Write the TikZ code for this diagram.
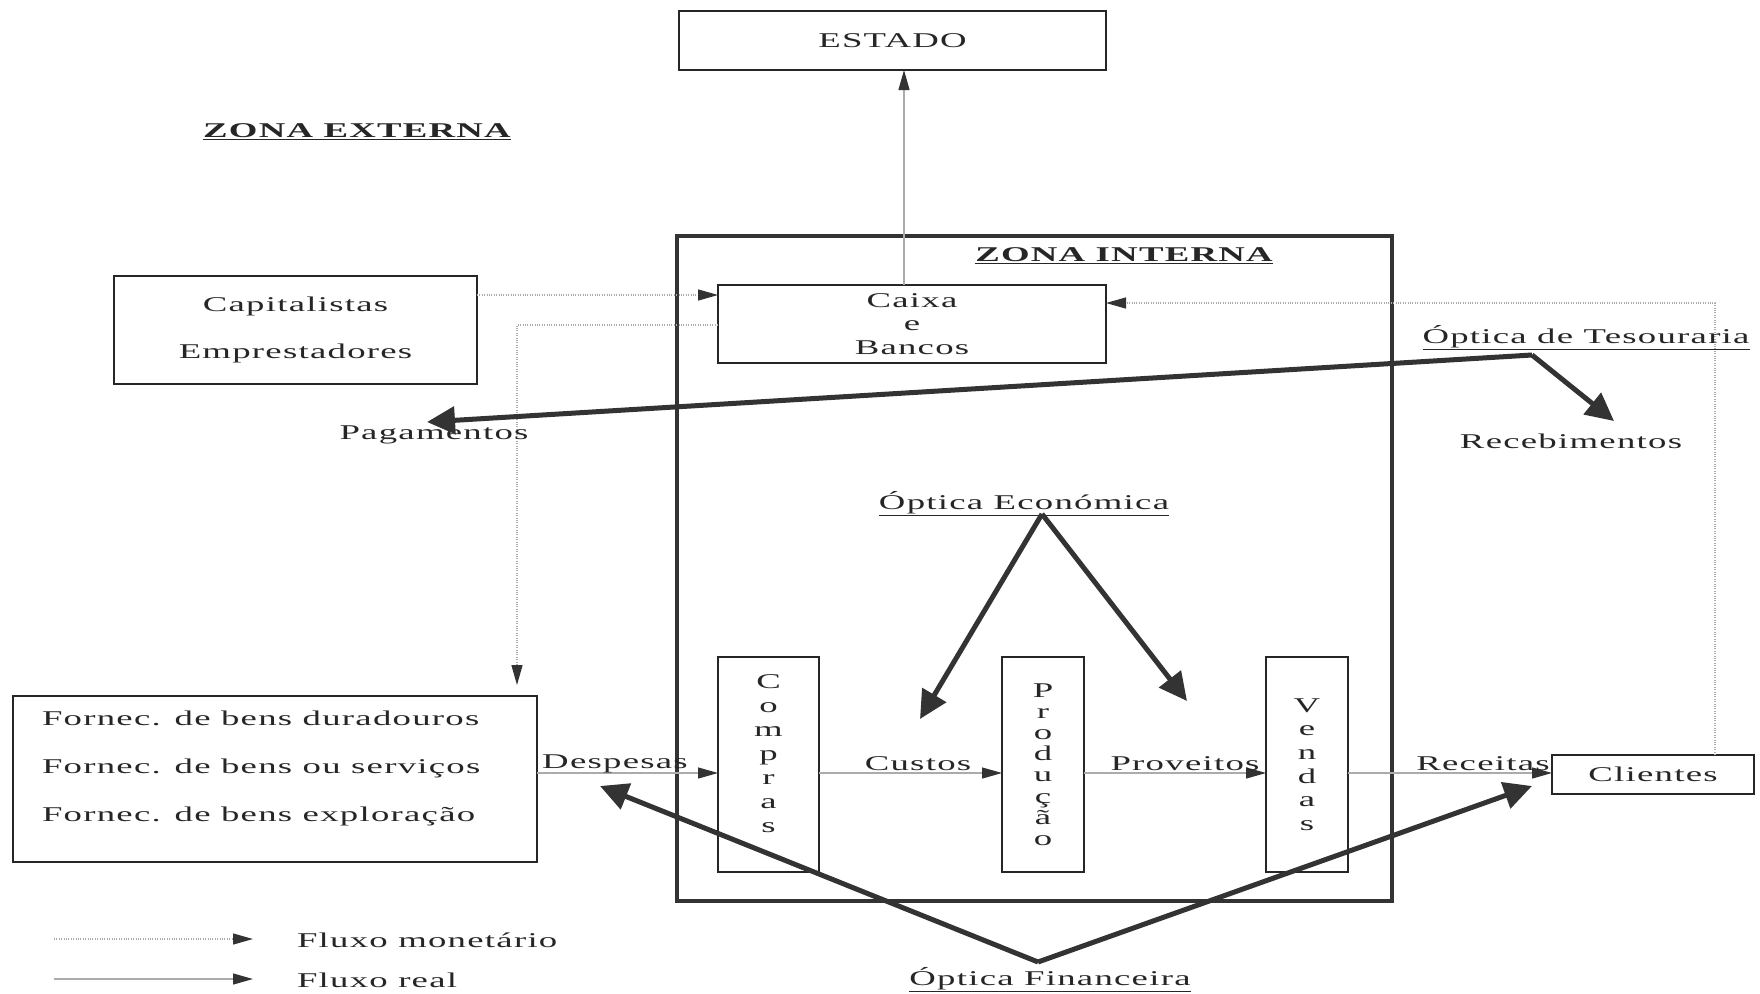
\documentclass[tikz,border=0pt]{standalone}
\usepackage{fontspec}
\setmainfont{Liberation Serif}[FakeStretch=1.75,LetterSpace=6]
\usetikzlibrary{arrows.meta}
\definecolor{ink}{HTML}{262626}
\definecolor{flow}{HTML}{ABABAB}
\definecolor{heavy}{HTML}{333333}
\begin{document}
\begin{tikzpicture}[x=1pt,y=-1pt,
  every node/.style={font=\fontsize{21}{24}\selectfont, text=ink, inner sep=0pt, outer sep=0pt},
  box/.style={draw=ink, line width=1.4pt, fill=white},
  real/.style={draw=flow, line width=1.3pt, -{Triangle[length=20pt,width=11pt,color=heavy]}},
  monet/.style={draw=flow, line width=1.3pt, dash pattern=on 1pt off 1.4pt, -{Triangle[length=20pt,width=11pt,color=heavy]}},
  bigarrow/.style={draw=heavy, line width=5pt, -{Triangle[length=28pt,width=27pt]}},
  title/.style={font=\fontsize{21}{24}\selectfont\bfseries}]
\useasboundingbox (0,0) rectangle (1760,993);

% zona interna frame
\node[draw=heavy, line width=4.5pt, minimum width=715pt, minimum height=665pt] (interna) at (1034.5,568.5) {};
\node[title] (zi) at (1124,256) {\underline{ZONA INTERNA}};
\node[title] (ze) at (357,132) {\underline{ZONA EXTERNA}};

% boxes
\node[box, minimum width=427pt, minimum height=59pt] (estado) at (892.5,40.5) {ESTADO};
\node[box, minimum width=388pt, minimum height=78pt, align=center, font=\fontsize{21}{23.5}\selectfont] (caixa) at (912,324) {Caixa\\e\\Bancos};
\node[box, minimum width=363pt, minimum height=108pt, align=center, font=\fontsize{21}{47}\selectfont] (capit) at (295.5,330) {Capitalistas\\Emprestadores};
\node[box, minimum width=524pt, minimum height=166pt] (fornec) at (275,779) {};
\node[anchor=west, align=left, font=\fontsize{21}{48}\selectfont] (forneclist) at (42,768)
  {Fornec. de bens duradouros\\Fornec. de bens ou serviços\\Fornec. de bens exploração};
\node[box, minimum width=101pt, minimum height=215pt,
  label={[yshift=11pt, align=center, font=\fontsize{21}{24}\selectfont]center:C\\o\\m\\p\\r\\a\\s}] (compras) at (768.5,764.5) {};
\node[box, minimum width=82pt, minimum height=215pt, align=center, font=\fontsize{21}{21.2}\selectfont] (produc) at (1043,764.5) {P\\r\\o\\d\\u\\ç\\ã\\o};
\node[box, minimum width=82pt, minimum height=215pt, align=center, font=\fontsize{21}{23.6}\selectfont] (vendas) at (1307,764.5) {V\\e\\n\\d\\a\\s};
\node[box, minimum width=202pt, minimum height=39pt] (clientes) at (1653,774.5) {Clientes};

% real flows
\coordinate (fl) at (0,773);
\draw[real] (fornec.east |- fl) -- (compras.west |- fl);
\draw[real] (compras.east |- fl) -- (produc.west |- fl);
\draw[real] (produc.east |- fl) -- (vendas.west |- fl);
\draw[real] (vendas.east |- fl) -- (clientes.west |- fl);
\node (desp) at (615,764) {Despesas};
\node (cust) at (918,764) {Custos};
\node (prov) at (1185,764) {Proveitos};
\node (rece) at (1483,764) {Receitas};

\coordinate (xl) at (904,0);
\draw[real] (caixa.north -| xl) -- (estado.south -| xl);

% monetary flows
\coordinate (y1) at (0,295);
\draw[monet] (capit.east |- y1) -- (caixa.west |- y1);
\coordinate (y2) at (0,325);
\coordinate (x2) at (517,0);
\draw[monet, shorten >=11pt] (caixa.west |- y2) -| (x2 |- fornec.north);
\coordinate (x3) at (1715,0);
\coordinate (y3) at (0,303);
\draw[monet] (clientes.north -| x3) |- (caixa.east |- y3);

% optics labels
\node (tes) at (1586,338) {\underline{Óptica de Tesouraria}};
\node (pag) at (434,435) {Pagamentos};
\node (rec) at (1571,441) {Recebimentos};
\node (eco) at (1024,504) {\underline{Óptica Económica}};
\node (fin) at (1050,980) {\underline{Óptica Financeira}};

% heavy arrows
\coordinate (tesc) at (1532,355);
\coordinate (pagtip) at (427,422);
\coordinate (rectip) at (1614,421);
\draw[bigarrow] (tesc) -- (pagtip);
\draw[bigarrow] (tesc) -- (rectip);
\coordinate (ecoc) at (1042,514);
\coordinate (ecol) at (920,719);
\coordinate (ecor) at (1187,701);
\draw[bigarrow] (ecoc) -- (ecol);
\draw[bigarrow] (ecoc) -- (ecor);
\coordinate (finc) at (1038,962);
\coordinate (finl) at (600,786);
\coordinate (finr) at (1532,786);
\draw[bigarrow] (finc) -- (finl);
\draw[bigarrow] (finc) -- (finr);

% legend
\coordinate (lg1a) at (54,939);
\coordinate (lg1b) at (253,939);
\coordinate (lg2a) at (54,979);
\coordinate (lg2b) at (253,979);
\draw[monet] (lg1a) -- (lg1b);
\draw[real] (lg2a) -- (lg2b);
\node[anchor=west] (lgm) at (297,940) {Fluxo monetário};
\node[anchor=west] (lgr) at (297,980) {Fluxo real};
\end{tikzpicture}
\end{document}
